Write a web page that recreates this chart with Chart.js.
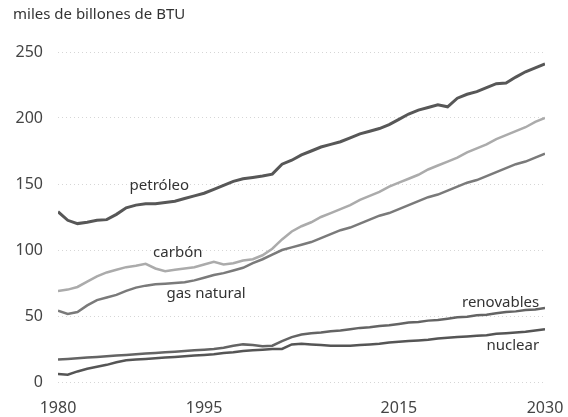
<!DOCTYPE html>
<html lang="es">
<head>
    <meta charset="UTF-8">
    <title>Consumo de energía por fuente</title>
    <script src="https://cdn.jsdelivr.net/npm/chart.js"></script>
    <style>
        html, body {
            margin: 0;
            padding: 0;
            background: #ffffff;
        }
        .chart-box {
            width: 568px;
            height: 417px;
        }
    </style>
</head>
<body>
    <div class="chart-box">
        <canvas id="energyChart"></canvas>
    </div>

    <script>
        // años 1980..2030
        const years = Array.from({ length: 51 }, (_, i) => 1980 + i);
        const xTicks = [1980, 1995, 2015, 2030];
        const yTicks = [0, 50, 100, 150, 200, 250];

        const petroleo = [
            129, 122.5, 120, 121, 122.5, 123, 127, 132, 134, 135,
            135, 136, 137, 139, 141, 143, 146, 149, 152, 154,
            155, 156, 157.5, 165, 168, 172, 175, 178, 180, 182,
            185, 188, 190, 192, 195, 199, 203, 206, 208, 210,
            208.5, 215, 218, 220, 223, 226, 226.5, 231, 235, 238,
            241
        ];
        const carbon = [
            69, 70, 72, 76, 80, 83, 85, 87, 88, 89.5,
            86, 84, 85, 86, 87, 89, 91, 89, 90, 92,
            93, 96, 101, 108, 114, 118, 121, 125, 128, 131,
            134, 138, 141, 144, 148, 151, 154, 157, 161, 164,
            167, 170, 174, 177, 180, 184, 187, 190, 193, 197,
            200
        ];
        const gasNatural = [
            54, 51.5, 53, 58, 62, 64, 66, 69, 71.5, 73,
            74, 74.5, 75, 75.5, 77, 79, 81, 82.5, 84.5, 86.5,
            90, 93, 96.5, 100, 102, 104, 106, 109, 112, 115,
            117, 120, 123, 126, 128, 131, 134, 137, 140, 142,
            145, 148, 151, 153, 156, 159, 162, 165, 167, 170,
            173
        ];
        const renovables = [
            17, 17.5, 18, 18.5, 19, 19.5, 20, 20.5, 21, 21.5,
            22, 22.5, 23, 23.5, 24, 24.5, 25, 26, 27.5, 28.5,
            28, 27, 27.5, 31, 34, 36, 37, 37.5, 38.5, 39,
            40, 41, 41.5, 42.5, 43, 44, 45, 45.5, 46.5, 47,
            48, 49, 49.5, 50.5, 51, 52, 53, 53.5, 54.5, 55,
            56
        ];
        const nuclear = [
            6, 5.5, 8, 10, 11.5, 13, 15, 16.5, 17, 17.5,
            18, 18.5, 19, 19.5, 20, 20.5, 21, 22, 22.5, 23.5,
            24, 24.5, 25, 25, 28.5, 29, 28.5, 28, 27.5, 27.5,
            27.5, 28, 28.5, 29, 30, 30.5, 31, 31.5, 32, 33,
            33.5, 34, 34.5, 35, 35.5, 36.5, 37, 37.5, 38, 39,
            40
        ];

        const seriesNames = ['petróleo', 'carbón', 'gas natural', 'renovables', 'nuclear'];

        // dónde va cada etiqueta, en unidades de datos
        const labelSpots = [
            { text: 'petróleo', x: 1990.4, y: 148.5, align: 'center' },
            { text: 'carbón', x: 1992.3, y: 97.7, align: 'center' },
            { text: 'gas natural', x: 1995.2, y: 66.7, align: 'center' },
            { text: 'renovables', x: 2029.4, y: 60, align: 'right' },
            { text: 'nuclear', x: 2029.4, y: 27.3, align: 'right' }
        ];

        const FONT = "'Noto Sans', 'Open Sans', sans-serif";

        const lineLabels = {
            id: 'lineLabels',
            afterDatasetsDraw(chart) {
                const { ctx, scales: { x, y } } = chart;
                ctx.save();
                ctx.font = '15px ' + FONT;
                ctx.fillStyle = '#333';
                ctx.textBaseline = 'middle';
                labelSpots.forEach(l => {
                    ctx.textAlign = l.align;
                    ctx.fillText(l.text, x.getPixelForValue(l.x), y.getPixelForValue(l.y));
                });
                ctx.restore();
            }
        };

        const toPoints = arr => years.map((yr, i) => ({ x: yr, y: arr[i] }));

        const styles = [
            { color: '#575757', width: 3 },
            { color: '#ababab', width: 2.5 },
            { color: '#7a7a7a', width: 2.5 },
            { color: '#646464', width: 2.5 },
            { color: '#555555', width: 2.5 }
        ];
        const allSeries = [petroleo, carbon, gasNatural, renovables, nuclear];

        const ctx = document.getElementById('energyChart').getContext('2d');
        new Chart(ctx, {
            type: 'line',
            data: {
                datasets: allSeries.map((s, i) => ({
                    label: seriesNames[i],
                    data: toPoints(s),
                    borderColor: styles[i].color,
                    borderWidth: styles[i].width,
                    pointRadius: 0,
                    tension: 0,
                    fill: false
                }))
            },
            options: {
                responsive: true,
                maintainAspectRatio: false,
                animation: false,
                layout: { padding: { left: 13, right: 23, top: 0, bottom: 0 } },
                scales: {
                    x: {
                        type: 'linear',
                        min: 1980,
                        max: 2030,
                        afterBuildTicks: axis => { axis.ticks = xTicks.map(v => ({ value: v })); },
                        afterFit: axis => {
                            axis.height = 35;
                            axis.paddingLeft = 0;
                            axis.paddingRight = 0;
                        },
                        grid: { display: false, drawTicks: false },
                        border: { display: false },
                        ticks: {
                            color: '#444',
                            font: { family: FONT, size: 16 },
                            padding: 17,
                            maxRotation: 0,
                            autoSkip: false,
                            callback: v => String(v)
                        }
                    },
                    y: {
                        min: 0,
                        max: 250,
                        afterBuildTicks: axis => { axis.ticks = yTicks.map(v => ({ value: v })); },
                        afterFit: axis => { axis.width = 45; },
                        grid: {
                            drawTicks: false,
                            color: 'rgba(0,0,0,0.16)',
                            lineWidth: 1
                        },
                        border: { display: false, dash: [1, 3] },
                        ticks: {
                            color: '#444',
                            font: { family: FONT, size: 16 },
                            padding: 15
                        }
                    }
                },
                plugins: {
                    legend: { display: false },
                    tooltip: { enabled: false },
                    title: {
                        display: true,
                        text: 'miles de billones de BTU',
                        align: 'start',
                        color: '#333',
                        font: { family: FONT, size: 15, weight: 'normal' },
                        padding: { top: 6, bottom: 28 }
                    }
                }
            },
            plugins: [lineLabels]
        });
    </script>
</body>
</html>
